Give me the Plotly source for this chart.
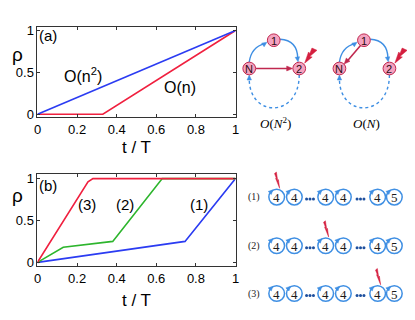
import numpy as np
import plotly.graph_objects as go

# ---- data ----
# panel (a)
a_t_on2 = [0, 1]
a_rho_on2 = [0, 1]
a_t_on = [0, 0.33, 1]
a_rho_on = [0, 0, 1]

# panel (b)
b_t_1 = [0, 0.745, 1]
b_rho_1 = [0, 0.25, 1]
b_t_2 = [0, 0.13, 0.38, 0.63, 1]
b_rho_2 = [0, 0.18, 0.25, 1, 1]
b_t_3 = [0, 0.255, 0.28, 1]
b_rho_3 = [0, 0.96, 1, 1]

x_ticks = [0, 0.2, 0.4, 0.6, 0.8, 1]
x_ticklabels = ["0", "0.2", "0.4", "0.6", "0.8", "1"]
y_ticks = [0, 0.5, 1]
y_ticklabels = ["0", "0.5", "1"]

# schematic: node labels and chain digits
node_labels = ["1", "N", "2"]
chain_digits = ["4", "4", "4", "4", "4", "5"]
row_labels = ["(1)", "(2)", "(3)"]
bolt_site = [0, 2, 4]

# page is 415x320, the plot div sits 8px in (body margin)
OFF = 8
W, H = 415 - OFF, 320 - OFF
BLUE = "#2b3cf2"
RED = "#f0203f"
GREEN = "#2db52d"
ARC = "#3f8fe3"
DARKRED = "#c0284f"
PINK = "#f4a3c0"


def fx(px):
    return (px - OFF) / W


def fy(py):
    return 1 - (py - OFF) / H


fig = go.Figure()

fig.add_trace(go.Scatter(x=a_t_on, y=a_rho_on, mode="lines", line=dict(color=RED, width=1.6),
                         xaxis="x", yaxis="y", showlegend=False))
fig.add_trace(go.Scatter(x=a_t_on2, y=a_rho_on2, mode="lines", line=dict(color=BLUE, width=1.6),
                         xaxis="x", yaxis="y", showlegend=False))
fig.add_trace(go.Scatter(x=b_t_1, y=b_rho_1, mode="lines", line=dict(color=BLUE, width=1.6),
                         xaxis="x2", yaxis="y2", showlegend=False))
fig.add_trace(go.Scatter(x=b_t_2, y=b_rho_2, mode="lines", line=dict(color=GREEN, width=1.6),
                         xaxis="x2", yaxis="y2", showlegend=False))
fig.add_trace(go.Scatter(x=b_t_3, y=b_rho_3, mode="lines", line=dict(color=RED, width=1.6),
                         xaxis="x2", yaxis="y2", showlegend=False))

shapes = []
annots = []


def px_ann(x, y, text, size=14, color="black", family="Arial", **kw):
    annots.append(dict(x=x, y=y, xref="x3", yref="y3", text=text, showarrow=False,
                       font=dict(size=size, color=color, family=family), **kw))


def path_shape(path, color, width=1.4, dash="solid", fill=None, layer="above"):
    d = dict(type="path", path=path, xref="x3", yref="y3", layer=layer,
             line=dict(color=color, width=width, dash=dash))
    if fill:
        d["fillcolor"] = fill
    shapes.append(d)


def head(hx, hy, ux, uy, color, L=5.0, w=4.5):
    u = np.array([ux, uy], dtype=float)
    u /= np.hypot(*u)
    n = np.array([-u[1], u[0]])
    tip = np.array([hx, hy])
    base = tip - L * u
    b1 = base + w / 2 * n
    b2 = base - w / 2 * n
    path_shape(f"M{tip[0]:.2f},{tip[1]:.2f} L{b1[0]:.2f},{b1[1]:.2f} "
               f"L{b2[0]:.2f},{b2[1]:.2f} Z", color, width=0.5, fill=color)


def bolt(tx, ty, ang_deg, length=17, wid=1.0, color="#d41f3f"):
    th = np.radians(ang_deg)
    d = np.array([np.sin(th), -np.cos(th)])
    n = np.array([np.cos(th), np.sin(th)])
    pts = [(0, 0), (9, 2.5), (8, 0.3), (17, 2.5), (16, -2.5), (10.5, -1.2), (11, -3)]
    s = length / 17.0
    path = ""
    for i, (u, v) in enumerate(pts):
        p = np.array([tx, ty]) + u * s * d + v * wid * n
        path += ("M" if i == 0 else "L") + f"{p[0]:.2f},{p[1]:.2f} "
    path_shape(path + "Z", color, width=0.5, fill=color)


# ---- panel labels and axis titles ----
px_ann(45, 33, "(a)", size=15)
px_ann(14, 53, "ρ", size=19)
px_ann(135, 148, "t / T", size=17)
px_ann(45, 187, "(b)", size=15)
px_ann(14, 197, "ρ", size=19)
px_ann(135, 305, "t / T", size=17)

px_ann(80, 74, "O(n<sup>2</sup>)", size=16)
px_ann(179, 87, "O(n)", size=16)
px_ann(84, 207, "(3)", size=15)
px_ann(123, 207, "(2)", size=15)
px_ann(199, 207, "(1)", size=15)

# ---- top schematic: two 3-node graphs ----
R = 6.5
for k, dx in enumerate([0, 92]):
    one = (275 + dx, 38)
    nn = (250 + dx, 67)
    two = (301 + dx, 67)
    # blue arcs N->1, 1->2
    path_shape(f"M{nn[0]},{nn[1]-R} Q{nn[0]+2},{45} {one[0]-9},{one[1]+3.5}", ARC)
    head(one[0] - 7, one[1] + 2, 1, -0.7, ARC)
    path_shape(f"M{one[0]+R},{one[1]-1} Q{two[0]-2},{38} {two[0]-1.5},{two[1]-R-4}", ARC)
    head(two[0] - 1.2, two[1] - R - 0.3, 0.15, 1, ARC)
    # dotted return arc 2 -> N
    path_shape(f"M{two[0]},{two[1]+R} C{two[0]},{118} {nn[0]},{118} {nn[0]},{nn[1]+R+4}",
               ARC, dash="dot")
    head(nn[0], nn[1] + R + 0.3, 0, -1, ARC)
    # red coupling arrow
    if k == 0:
        path_shape(f"M{nn[0]+R},{nn[1]} L{two[0]-R-5},{two[1]}", DARKRED, width=1.6)
        head(two[0] - R - 0.3, two[1], 1, 0, DARKRED, L=6, w=5)
    else:
        path_shape(f"M{one[0]-3.5},{one[1]+5.5} L{nn[0]+8.5},{nn[1]-8.3}", DARKRED, width=1.6)
        head(nn[0] + 4.8, nn[1] - 4.6, -1, 1.1, DARKRED, L=6, w=5)
    # nodes
    for (cx, cy), lab in zip([one, nn, two], node_labels):
        shapes.append(dict(type="circle", xref="x3", yref="y3", x0=cx - R, x1=cx + R,
                           y0=cy - R, y1=cy + R, fillcolor=PINK,
                           line=dict(color=DARKRED, width=1), layer="above"))
        px_ann(cx, cy + 0.5, lab, size=11, color="#2a0a14")
    bolt(two[0] + 5.5, two[1] - 5.5, 35, length=18, wid=1.1)

px_ann(277, 123, "<i>O</i>(<i>N</i><sup>2</sup>)", size=13, family="Liberation Serif")
px_ann(370, 123, "<i>O</i>(<i>N</i>)", size=13, family="Liberation Serif")

# ---- bottom schematic: three chains ----
chain_x = [278, 296, 328, 346, 381, 398]
row_y = [199, 249, 298]
r = 8
for ry, lab, site in zip(row_y, row_labels, bolt_site):
    px_ann(255, ry, lab, size=10, color="#222", family="Liberation Serif")
    for cx, dg in zip(chain_x, chain_digits):
        shapes.append(dict(type="circle", xref="x3", yref="y3", x0=cx - r, x1=cx + r,
                           y0=ry - r, y1=ry + r, fillcolor="white",
                           line=dict(color=ARC, width=1.5)))
        phi = np.radians(225)
        p = np.array([cx + r * np.cos(phi), ry + r * np.sin(phi)])
        t = np.array([-np.sin(phi), np.cos(phi)])
        head(p[0] + 2.5 * t[0], p[1] + 2.5 * t[1], t[0], t[1], ARC, L=4.5, w=4.5)
        px_ann(cx, ry + 0.5, dg, size=13, color="#1a1a1a", family="Liberation Serif")
    for gx in [(chain_x[1] + chain_x[2]) / 2, (chain_x[3] + chain_x[4]) / 2]:
        fig.add_trace(go.Scatter(x=[gx - 3.5, gx, gx + 3.5], y=[ry + 2] * 3, mode="markers",
                                 marker=dict(size=3, color="#1d4f9e"), xaxis="x3", yaxis="y3",
                                 showlegend=False, hoverinfo="skip"))
    bolt(chain_x[site] + 3, ry - r - 1, -15, length=17, wid=0.45)

axis_style = dict(showline=True, linecolor="#333", linewidth=1, mirror="ticks", ticks="inside",
                  ticklen=3, tickcolor="#333", showgrid=False, zeroline=False,
                  tickfont=dict(family="Arial", size=13, color="black"))

fig.update_layout(
    width=W, height=H,
    margin=dict(l=0, r=0, t=0, b=0),
    paper_bgcolor="white", plot_bgcolor="rgba(0,0,0,0)",
    xaxis=dict(domain=[fx(34), fx(236)], range=[0, 1], tickvals=x_ticks,
               ticktext=x_ticklabels, anchor="y", **axis_style),
    yaxis=dict(domain=[fy(117), fy(24)], range=[-0.035, 1.047], tickvals=y_ticks,
               ticktext=y_ticklabels, anchor="x", **axis_style),
    xaxis2=dict(domain=[fx(34), fx(236)], range=[0, 1], tickvals=x_ticks,
                ticktext=x_ticklabels, anchor="y2", **axis_style),
    yaxis2=dict(domain=[fy(270), fy(175)], range=[-0.047, 1.058], tickvals=y_ticks,
                ticktext=y_ticklabels, anchor="x2", **axis_style),
    xaxis3=dict(domain=[0, 1], range=[OFF, OFF + W], visible=False, anchor="y3"),
    yaxis3=dict(domain=[0, 1], range=[OFF + H, OFF], visible=False, anchor="x3"),
    shapes=shapes,
    annotations=annots,
)

fig.write_html("out.html")
